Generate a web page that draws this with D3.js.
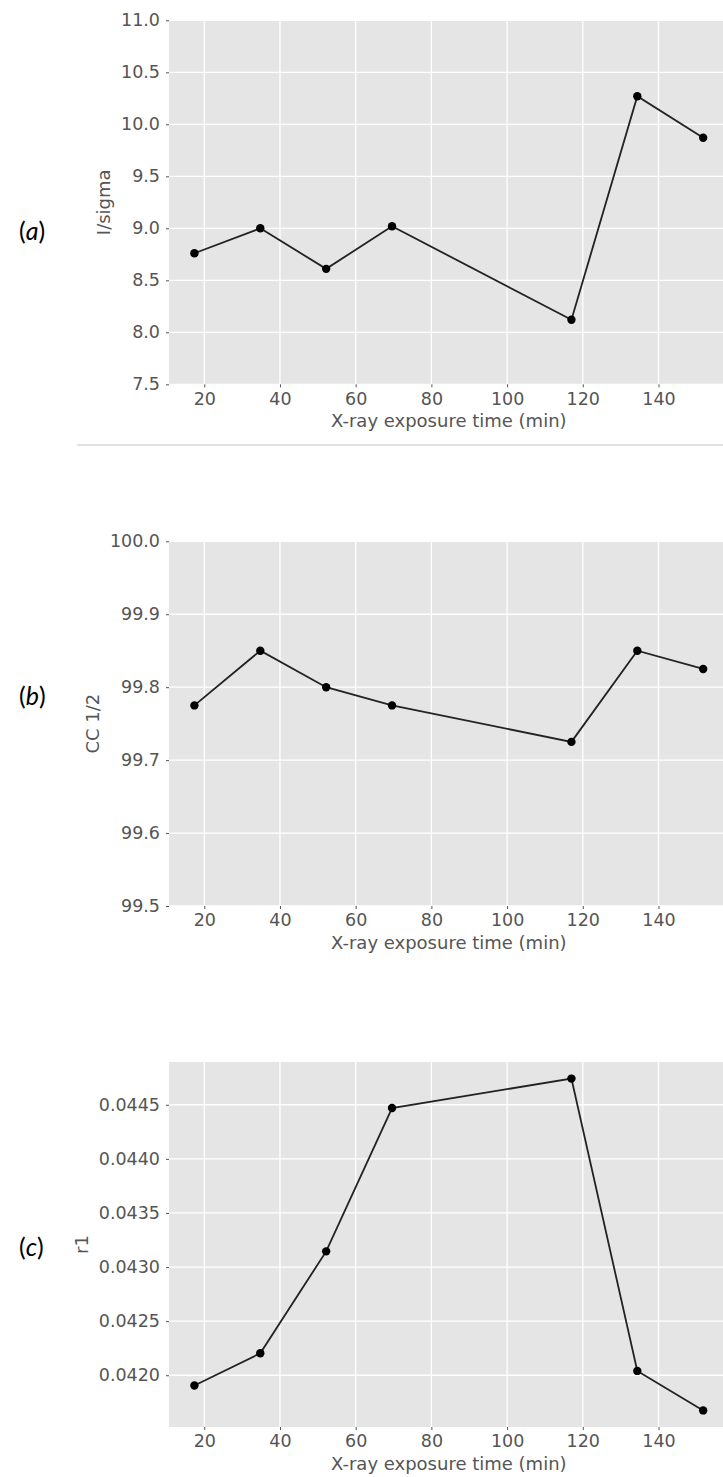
<!DOCTYPE html>
<html>
<head>
<meta charset="utf-8">
<script src="https://cdn.jsdelivr.net/npm/d3@7/dist/d3.min.js"></script>
<style>
  html, body { margin: 0; padding: 0; background: #fff; overflow: hidden; }
  svg { display: block; }
</style>
</head>
<body>
<div id="chart"></div>
<script>
// exposure times, shared by all three panels
const exposureTimes = [17.4, 34.8, 52.2, 69.6, 117.0, 134.4, 151.8];
const xTicks = [20, 40, 60, 80, 100, 120, 140];

// (a) I/sigma
const iSigma = [8.76, 9.00, 8.61, 9.02, 8.12, 10.27, 9.87];
const iSigmaTicks = [7.5, 8.0, 8.5, 9.0, 9.5, 10.0, 10.5, 11.0];

// (b) CC 1/2
const ccHalf = [99.775, 99.85, 99.80, 99.775, 99.725, 99.85, 99.825];
const ccHalfTicks = [99.5, 99.6, 99.7, 99.8, 99.9, 100.0];

// (c) r1
const r1 = [0.041905, 0.042203, 0.043145, 0.04447, 0.044742, 0.04204, 0.041675];
const r1Ticks = [0.0420, 0.0425, 0.0430, 0.0435, 0.0440, 0.0445];

const W = 723, H = 1477;
const svg = d3.select('#chart').append('svg')
  .attr('width', W).attr('height', H);

const tickFont = '"DejaVu Sans", sans-serif';
const grey = '#555';

// matplotlib style 5% margins on the x axis
const xPad = (d3.max(exposureTimes) - d3.min(exposureTimes)) * 0.05;
const x = d3.scaleLinear()
  .domain([d3.min(exposureTimes) - xPad, d3.max(exposureTimes) + xPad])
  .range([169, 728.6]);

function autoDomain(vals) {
  const p = (d3.max(vals) - d3.min(vals)) * 0.05;
  return [d3.min(vals) - p, d3.max(vals) + p];
}

const panels = [
  { letter: 'a', top: 20.3, bottom: 384.3, values: iSigma, domain: [7.5, 11.0],
    ticks: iSigmaTicks, fmt: d3.format('.1f'), label: 'I/sigma', labelY: 240 },
  { letter: 'b', top: 541.3, bottom: 906, values: ccHalf, domain: [99.5, 100.0],
    ticks: ccHalfTicks, fmt: d3.format('.1f'), label: 'CC 1/2', labelY: 705 },
  { letter: 'c', top: 1062, bottom: 1427, values: r1, domain: autoDomain(r1),
    ticks: r1Ticks, fmt: d3.format('.4f'), label: 'r1', labelY: 1256 }
];

panels.forEach(p => {
  const y = d3.scaleLinear().domain(p.domain).range([p.bottom, p.top]);
  const g = svg.append('g');

  g.append('rect')
    .attr('x', x.range()[0]).attr('y', p.top)
    .attr('width', x.range()[1] - x.range()[0])
    .attr('height', p.bottom - p.top)
    .attr('fill', '#e5e5e5');

  // grid
  g.selectAll('.gx').data(xTicks).join('line')
    .attr('x1', d => x(d)).attr('x2', d => x(d))
    .attr('y1', p.top).attr('y2', p.bottom)
    .attr('stroke', '#fff').attr('stroke-width', 1.3);
  g.selectAll('.gy').data(p.ticks).join('line')
    .attr('x1', x.range()[0]).attr('x2', x.range()[1])
    .attr('y1', d => y(d)).attr('y2', d => y(d))
    .attr('stroke', '#fff').attr('stroke-width', 1.3);

  // axes
  const xAxis = g.append('g')
    .attr('transform', `translate(0,${p.bottom})`)
    .call(d3.axisBottom(x).tickValues(xTicks).tickSize(3).tickPadding(5));
  const yAxis = g.append('g')
    .attr('transform', `translate(${x.range()[0]},0)`)
    .call(d3.axisLeft(y).tickValues(p.ticks).tickFormat(p.fmt).tickSize(3).tickPadding(6));
  [xAxis, yAxis].forEach(a => {
    a.select('.domain').remove();
    a.selectAll('.tick line').attr('stroke', grey).attr('stroke-width', 1);
    a.selectAll('.tick text')
      .attr('fill', grey)
      .style('font-family', tickFont)
      .style('font-size', '17.5px');
  });

  // axis labels
  const labelW = d3.max(yAxis.selectAll('.tick text').nodes(), n => n.getComputedTextLength());
  g.append('text')
    .attr('transform', `translate(${x.range()[0] - 9 - labelW - 11},${(p.top + p.bottom) / 2}) rotate(-90)`)
    .attr('text-anchor', 'middle')
    .attr('fill', grey)
    .style('font-family', tickFont)
    .style('font-size', '18px')
    .text(p.label);

  g.append('text')
    .attr('x', (x.range()[0] + x.range()[1]) / 2)
    .attr('y', p.bottom + 43)
    .attr('text-anchor', 'middle')
    .attr('fill', grey)
    .style('font-family', tickFont)
    .style('font-size', '18px')
    .text('X-ray exposure time (min)');

  // data
  const pts = exposureTimes.map((t, i) => [t, p.values[i]]);
  g.append('path')
    .datum(pts)
    .attr('fill', 'none')
    .attr('stroke', '#222')
    .attr('stroke-width', 1.8)
    .attr('d', d3.line().x(d => x(d[0])).y(d => y(d[1])));
  g.selectAll('.pt').data(pts).join('circle')
    .attr('cx', d => x(d[0])).attr('cy', d => y(d[1]))
    .attr('r', 4.2).attr('fill', '#000');

  // panel letter
  const lt = g.append('text')
    .attr('x', 19).attr('y', p.labelY)
    .attr('fill', '#000')
    .style('font-family', 'Lato, "Open Sans", sans-serif')
    .style('font-size', '25px');
  lt.append('tspan').text('(');
  lt.append('tspan').style('font-style', 'italic').text(p.letter);
  lt.append('tspan').text(')');
});

// thin rule under panel (a)
svg.append('line')
  .attr('x1', 77).attr('x2', W)
  .attr('y1', 445).attr('y2', 445)
  .attr('stroke', '#c4c4c4').attr('stroke-width', 1);
</script>
</body>
</html>
